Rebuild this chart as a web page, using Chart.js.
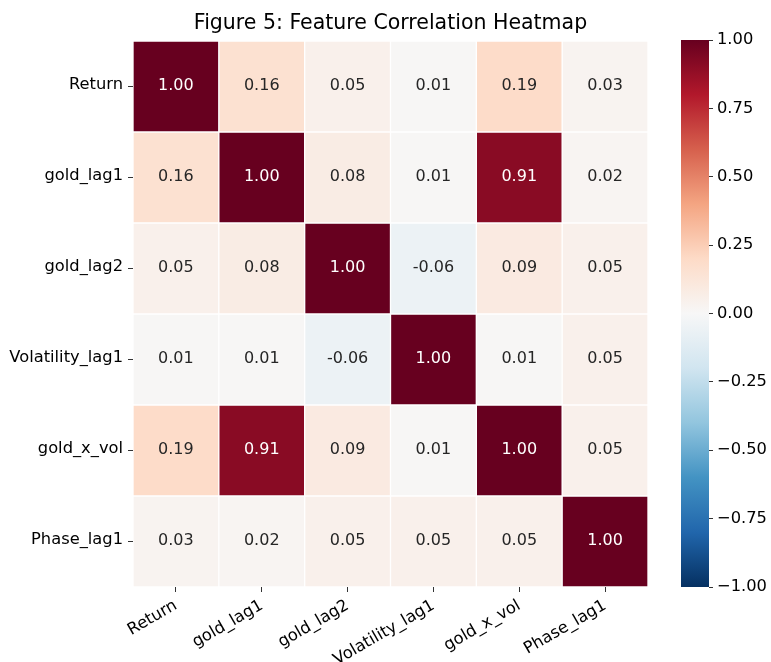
<!DOCTYPE html>
<html>
<head>
<meta charset="utf-8">
<script src="https://cdn.jsdelivr.net/npm/chart.js@4.4.1/dist/chart.umd.min.js"></script>
<style>
  html, body { margin: 0; padding: 0; background: #ffffff; }
  #wrap { position: relative; width: 771px; height: 662px; }
  #heat { position: absolute; left: 0; top: 0; }
  #cbar { position: absolute; left: 660px; top: 0; }
</style>
</head>
<body>
<div id="wrap">
  <canvas id="heat" width="771" height="662"></canvas>
  <canvas id="cbar" width="111" height="662"></canvas>
</div>
<script>
// Feature names (rows top to bottom, columns left to right)
const features = ['Return', 'gold_lag1', 'gold_lag2', 'Volatility_lag1', 'gold_x_vol', 'Phase_lag1'];

// Pairwise correlation rows
const rowReturn     = [1.00, 0.16, 0.05, 0.01, 0.19, 0.03];
const rowGoldLag1   = [0.16, 1.00, 0.08, 0.01, 0.91, 0.02];
const rowGoldLag2   = [0.05, 0.08, 1.00, -0.06, 0.09, 0.05];
const rowVolLag1    = [0.01, 0.01, -0.06, 1.00, 0.01, 0.05];
const rowGoldXVol   = [0.19, 0.91, 0.09, 0.01, 1.00, 0.05];
const rowPhaseLag1  = [0.03, 0.02, 0.05, 0.05, 0.05, 1.00];
const corr = [rowReturn, rowGoldLag1, rowGoldLag2, rowVolLag1, rowGoldXVol, rowPhaseLag1];

// Colour bar ticks
const cbarTicks = [-1, -0.75, -0.5, -0.25, 0, 0.25, 0.5, 0.75, 1];

const titleText = 'Figure 5: Feature Correlation Heatmap';

// Diverging red-blue palette (value -1 .. 1)
const palette = ['#053061', '#2166ac', '#4393c3', '#92c5de', '#d1e5f0', '#f7f7f7',
                 '#fddbc7', '#f4a582', '#d6604d', '#b2182b', '#67001f'];

function hexToRgb(h) {
  return [parseInt(h.slice(1, 3), 16), parseInt(h.slice(3, 5), 16), parseInt(h.slice(5, 7), 16)];
}
function colorRgb(v) {
  const t = Math.max(0, Math.min(1, (v + 1) / 2)) * (palette.length - 1);
  const i = Math.min(Math.floor(t), palette.length - 2);
  const f = t - i;
  const a = hexToRgb(palette[i]), b = hexToRgb(palette[i + 1]);
  return a.map((x, k) => Math.round(x + (b[k] - x) * f));
}
function colorFor(v) {
  const c = colorRgb(v);
  return `rgb(${c[0]},${c[1]},${c[2]})`;
}
function luminance(rgb) {
  const lin = rgb.map(x => { x /= 255; return x <= 0.03928 ? x / 12.92 : Math.pow((x + 0.055) / 1.055, 2.4); });
  return 0.2126 * lin[0] + 0.7152 * lin[1] + 0.0722 * lin[2];
}

Chart.defaults.font.family = 'DejaVu Sans';
Chart.defaults.color = '#000000';

const n = features.length;
const tickFont = 16.3;

// One floating-bar dataset per row; each bar spans one unit of the y range
const datasets = corr.map((row, r) => ({
  data: row.map(() => [n - 1 - r, n - r]),
  backgroundColor: row.map(colorFor),
  borderColor: '#ffffff',
  borderWidth: 1,
  borderSkipped: false,
  barPercentage: 1,
  categoryPercentage: 1,
  grouped: false
}));

// Value annotations inside each cell, plus the title centred over the grid
const cellLabels = {
  id: 'cellLabels',
  afterDatasetsDraw(chart) {
    const ctx = chart.ctx;
    const xs = chart.scales.x, ys = chart.scales.y;
    ctx.save();
    ctx.font = '16px "DejaVu Sans"';
    ctx.textAlign = 'center';
    ctx.textBaseline = 'middle';
    corr.forEach((row, r) => {
      row.forEach((v, c) => {
        const lum = luminance(colorRgb(v));
        ctx.fillStyle = lum < 0.408 ? '#ffffff' : '#262626';
        ctx.fillText(v.toFixed(2), xs.getPixelForValue(c), ys.getPixelForValue(n - 0.5 - r) - 1);
      });
    });
    const area = chart.chartArea;
    ctx.font = '20.5px "DejaVu Sans"';
    ctx.fillStyle = '#000000';
    ctx.textBaseline = 'alphabetic';
    ctx.fillText(titleText, (area.left + area.right) / 2, 29);
    ctx.restore();
  }
};

new Chart(document.getElementById('heat'), {
  type: 'bar',
  data: { labels: features, datasets },
  options: {
    responsive: false,
    animation: false,
    layout: { padding: { left: 0, right: 123, top: 41, bottom: 0 } },
    plugins: {
      legend: { display: false },
      tooltip: { enabled: false },
      title: { display: false }
    },
    scales: {
      x: {
        type: 'category',
        offset: true,
        border: { display: false },
        grid: { display: true, offset: false, drawOnChartArea: false, drawTicks: true, tickLength: 5, color: '#333333' },
        ticks: { minRotation: 30, maxRotation: 30, autoSkip: false, padding: 4, font: { size: tickFont }, color: '#000000' },
        afterFit(s) { s.height = 75; }
      },
      y: {
        type: 'linear',
        min: 0,
        max: n,
        border: { display: false },
        grid: { display: true, drawOnChartArea: false, drawTicks: true, tickLength: 5, color: '#333333' },
        afterBuildTicks(s) { s.ticks = features.map((_, i) => ({ value: n - 0.5 - i })); },
        ticks: {
          padding: 5,
          labelOffset: -2,
          font: { size: tickFont },
          color: '#000000',
          callback: v => features[Math.round(n - 0.5 - v)]
        },
        afterFit(s) { s.width = 133; }
      }
    }
  },
  plugins: [cellLabels]
});

// Colour bar: a single floating bar filled with the palette gradient
function gradientFill(context) {
  const chart = context.chart;
  const area = chart.chartArea;
  if (!area) return '#f7f7f7';
  const g = chart.ctx.createLinearGradient(0, area.bottom, 0, area.top);
  palette.forEach((c, i) => g.addColorStop(i / (palette.length - 1), c));
  return g;
}

new Chart(document.getElementById('cbar'), {
  type: 'bar',
  data: {
    labels: [''],
    datasets: [{
      data: [[-1, 1]],
      backgroundColor: gradientFill,
      borderWidth: 0,
      barPercentage: 1,
      categoryPercentage: 1
    }]
  },
  options: {
    responsive: false,
    animation: false,
    layout: { padding: { left: 21, right: 0, top: 40, bottom: 75 } },
    plugins: { legend: { display: false }, tooltip: { enabled: false } },
    scales: {
      x: { display: false, offset: true },
      y: {
        type: 'linear',
        position: 'right',
        min: -1,
        max: 1,
        border: { display: false },
        grid: { display: true, drawOnChartArea: false, drawTicks: true, tickLength: 4, color: '#333333' },
        afterBuildTicks(s) { s.ticks = cbarTicks.map(v => ({ value: v })); },
        ticks: { padding: 4, font: { size: tickFont }, color: '#000000', callback: v => v.toFixed(2).replace('-', '\u2212') },
        afterFit(s) { s.width = 62; }
      }
    }
  }
});
</script>
</body>
</html>
